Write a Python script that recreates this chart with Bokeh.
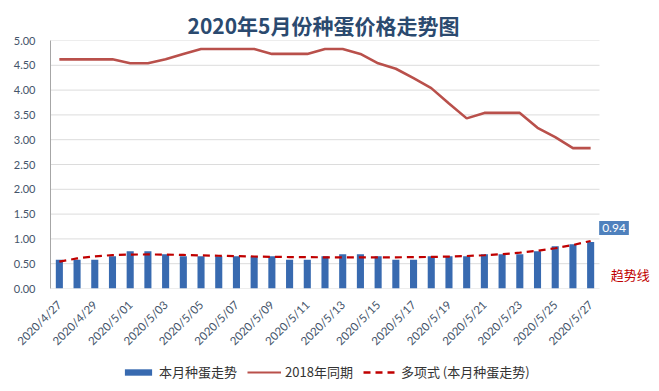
import math
import numpy as np
from bokeh.plotting import figure
from bokeh.layouts import column
from bokeh.models import (ColumnDataSource, FixedTicker, Legend, LegendItem, Label,
                          Range1d, NumeralTickFormatter)
from bokeh.embed import file_html
from bokeh.resources import INLINE

# ---------------- data ----------------
dates = ["2020/4/27", "2020/4/28", "2020/4/29", "2020/4/30",
         "2020/5/01", "2020/5/02", "2020/5/03", "2020/5/04", "2020/5/05",
         "2020/5/06", "2020/5/07", "2020/5/08", "2020/5/09", "2020/5/10",
         "2020/5/11", "2020/5/12", "2020/5/13", "2020/5/14", "2020/5/15",
         "2020/5/16", "2020/5/17", "2020/5/18", "2020/5/19", "2020/5/20",
         "2020/5/21", "2020/5/22", "2020/5/23", "2020/5/24", "2020/5/25",
         "2020/5/26", "2020/5/27"]
egg_2020 = [0.58, 0.58, 0.58, 0.65, 0.75, 0.75, 0.69, 0.65, 0.65, 0.65,
            0.65, 0.65, 0.65, 0.58, 0.58, 0.65, 0.69, 0.69, 0.65, 0.58,
            0.58, 0.65, 0.65, 0.65, 0.69, 0.69, 0.69, 0.75, 0.85, 0.89, 0.94]
same_2018 = [4.62, 4.62, 4.62, 4.62, 4.54, 4.54, 4.62, 4.73, 4.83, 4.83,
             4.83, 4.83, 4.73, 4.73, 4.73, 4.83, 4.83, 4.73, 4.54, 4.43,
             4.24, 4.04, 3.73, 3.43, 3.54, 3.54, 3.54, 3.24, 3.05, 2.83, 2.83]
y_ticks = [0.0, 0.5, 1.0, 1.5, 2.0, 2.5, 3.0, 3.5, 4.0, 4.5, 5.0]

title_text = "2020年5月份种蛋价格走势图"
name_bar = "本月种蛋走势"
name_2018 = "2018年同期"
name_trend = "多项式 (本月种蛋走势)"
trend_note = "趋势线"

# ---------------- derived ----------------
n = len(dates)
idx = list(range(n))
xs = np.arange(1, n + 1)
coef = np.polyfit(xs, egg_2020, 6)
trend = list(np.polyval(coef, xs))

src = ColumnDataSource(dict(x=idx, egg=egg_2020, y18=same_2018, trend=trend, date=dates))

CJK = "Noto Sans CJK SC"
NUM = "Lato"
BAR_COLOR = "#386AB0"
L18_COLOR = "#B9504B"
TR_COLOR = "#C00000"

# layout (pixels)
W = 659
LEFT, TOP, BOTTOM = 50, 40, 73
PLOT_W = 549                     # width of the plotting area proper
FRAME_W = W - LEFT               # frame extends to the right edge to hold the notes
FRAME_H = 248
LEG_H = 391 - TOP - FRAME_H - BOTTOM
x0 = -0.5
x_plot_end = n - 0.5
x_end = x0 + (x_plot_end - x0) * FRAME_W / PLOT_W

p = figure(frame_width=FRAME_W, frame_height=FRAME_H,
           min_border_left=LEFT, min_border_right=0, min_border_top=TOP, min_border_bottom=BOTTOM,
           output_backend="svg", toolbar_location=None,
           x_range=Range1d(x0, x_end), y_range=Range1d(0, 5))
p.background_fill_color = "white"
p.border_fill_color = "white"
p.outline_line_color = None

p.title.text = title_text
p.title.align = "left"
p.title.offset = 137
p.title.text_font = CJK
p.title.text_font_size = "21px"
p.title.text_font_style = "bold"
p.title.text_color = "#2B4A6F"
p.title.standoff = 2

# gridlines limited to the plotting area
p.xgrid.grid_line_color = None
p.ygrid.grid_line_color = None
p.segment(x0=[x0] * len(y_ticks), x1=[x_plot_end] * len(y_ticks), y0=y_ticks, y1=y_ticks,
          line_color="#DCDCDC", line_width=1)

bars = p.vbar(x="x", top="egg", width=0.4, source=src, fill_color=BAR_COLOR, line_color=None)
l18 = p.line(x="x", y="y18", source=src, line_color=L18_COLOR, line_width=2.6)
ltr = p.line(x="x", y="trend", source=src, line_color=TR_COLOR, line_width=2.2, line_dash="7 5")

p.yaxis.ticker = FixedTicker(ticks=y_ticks)
p.yaxis.formatter = NumeralTickFormatter(format="0.00")
p.yaxis.axis_line_color = "#A6A6A6"
p.yaxis.major_tick_line_color = None
p.yaxis.minor_tick_line_color = None
p.yaxis.major_tick_out = 0
p.yaxis.major_tick_in = 0
p.yaxis.major_label_text_font = NUM
p.yaxis.major_label_text_font_size = "11px"
p.yaxis.major_label_text_color = "#44546A"
p.yaxis.major_label_standoff = 15

even = idx[::2]
p.xaxis.ticker = FixedTicker(ticks=even)
p.xaxis.major_label_overrides = {i: dates[i] for i in even}
p.xaxis.major_label_orientation = math.pi / 4
p.xaxis.axis_line_color = None
p.xaxis.major_tick_line_color = None
p.xaxis.minor_tick_line_color = None
p.xaxis.major_tick_out = 0
p.xaxis.major_tick_in = 0
p.xaxis.major_label_text_font = NUM
p.xaxis.major_label_text_font_size = "11.5px"
p.xaxis.major_label_text_color = "#44546A"
p.xaxis.major_label_standoff = 14

# annotations
last = n - 1
p.add_layout(Label(x=last, y=egg_2020[-1], text=f"{egg_2020[-1]:.2f}",
                   x_offset=8.5, y_offset=7, text_align="left", text_baseline="bottom",
                   text_font=NUM, text_font_size="12px", text_color="white",
                   background_fill_color="#4F81BD", padding=3))
p.add_layout(Label(x=last, y=0, text=trend_note, x_offset=20, y_offset=14,
                   text_align="left", text_baseline="middle",
                   text_font=CJK, text_font_size="13px", text_color=TR_COLOR))

# legend strip below the chart (its renderers use the same data but sit outside its view)
lg = figure(width=W, height=LEG_H, min_border=0, output_backend="svg", toolbar_location=None,
            x_range=Range1d(x0, x_plot_end), y_range=Range1d(10, 11))
lg.outline_line_color = None
lg.axis.visible = False
lg.grid.grid_line_color = None
lb = lg.vbar(x="x", top="egg", width=0.4, source=src, fill_color=BAR_COLOR, line_color=None)
ll = lg.line(x="x", y="y18", source=src, line_color=L18_COLOR, line_width=2)
lt = lg.line(x="x", y="trend", source=src, line_color=TR_COLOR, line_width=2.4, line_dash="7 5")
legend = Legend(items=[LegendItem(label=name_bar, renderers=[lb]),
                       LegendItem(label=name_2018, renderers=[ll]),
                       LegendItem(label=name_trend, renderers=[lt])],
                orientation="horizontal", location=(71, LEG_H - 12 - 8),
                border_line_color=None, background_fill_alpha=0,
                label_text_font=CJK, label_text_font_size="13px", label_text_color="#333333",
                glyph_width=34, glyph_height=8, label_height=16, spacing=10, label_standoff=4,
                padding=0, margin=0)
lg.add_layout(legend, "center")

open("out.html", "w").write(file_html(column(p, lg, spacing=0), INLINE))
